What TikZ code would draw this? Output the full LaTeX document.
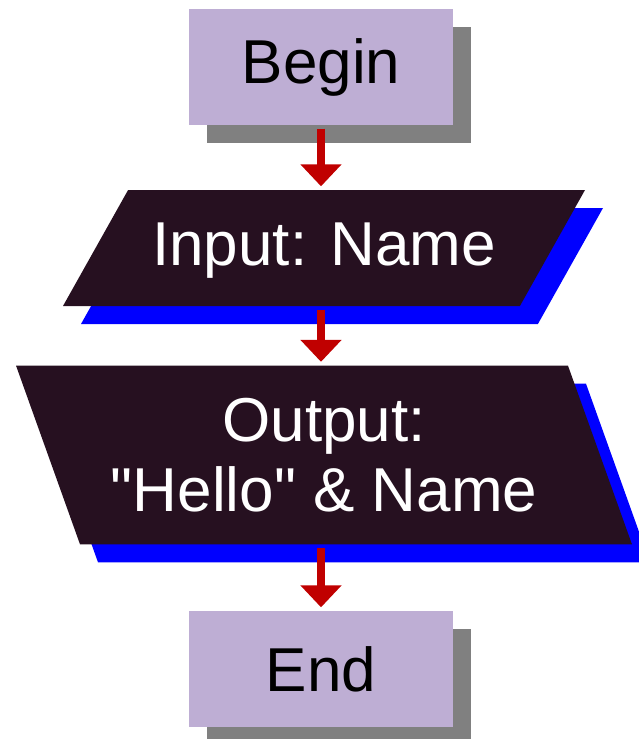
\documentclass[tikz,border=0pt]{standalone}
\usepackage{fontspec}
\setmainfont{Liberation Sans}[Ligatures=TeXOff]
\usetikzlibrary{shapes.geometric,shadows,arrows.meta}
\definecolor{lavender}{RGB}{190,174,212}
\definecolor{ink}{RGB}{38,16,32}
\definecolor{darkred}{RGB}{192,0,0}

\begin{document}
\begin{tikzpicture}[x=1pt,y=-1pt]
      \tikzstyle{every node}=[font=\fontsize{62}{70}\selectfont,inner sep=0pt,
			      align=center]
      \tikzstyle{terminal}=[rectangle,fill=lavender,minimum width=264pt,
			      minimum height=116pt,drop shadow={shadow xshift=18pt,
			      shadow yshift=-18pt,fill=black!50,opacity=1}]
      \tikzstyle{io}=[trapezium,fill=ink,text=white,trapezium stretches body=true,
			      drop shadow={shadow xshift=18pt,shadow yshift=-18pt,
			      fill=blue,opacity=1}]
      \tikzstyle{flow}=[darkred,line width=8pt,
			      -{Triangle[width=40pt,length=22pt]},
			      shorten <=3.5pt,shorten >=3.5pt]
      \useasboundingbox (0,0) rectangle (638,739);
      \node (start) at (321,67) [terminal] {Begin};
      \node (input) at (324,248) [io,trapezium left angle=60.7,
	  trapezium right angle=119.3,minimum width=522pt,
	  text height=75pt,text depth=41pt] {Input: Name};
      \node (output) at (324,455) [io,trapezium left angle=109.7,
	  trapezium right angle=70.3,minimum width=616pt,
	  inner ysep=32.5pt] {Output:\\"Hello" \& Name};
      \node (stop) at (321,669) [terminal] {End};
      \draw[flow] (start.south) -- (start.south |- input.north);
      \draw[flow] (start.south |- input.south) -- (start.south |- output.north);
      \draw[flow] (start.south |- output.south) -- (stop.north);
\end{tikzpicture}
\end{document}
